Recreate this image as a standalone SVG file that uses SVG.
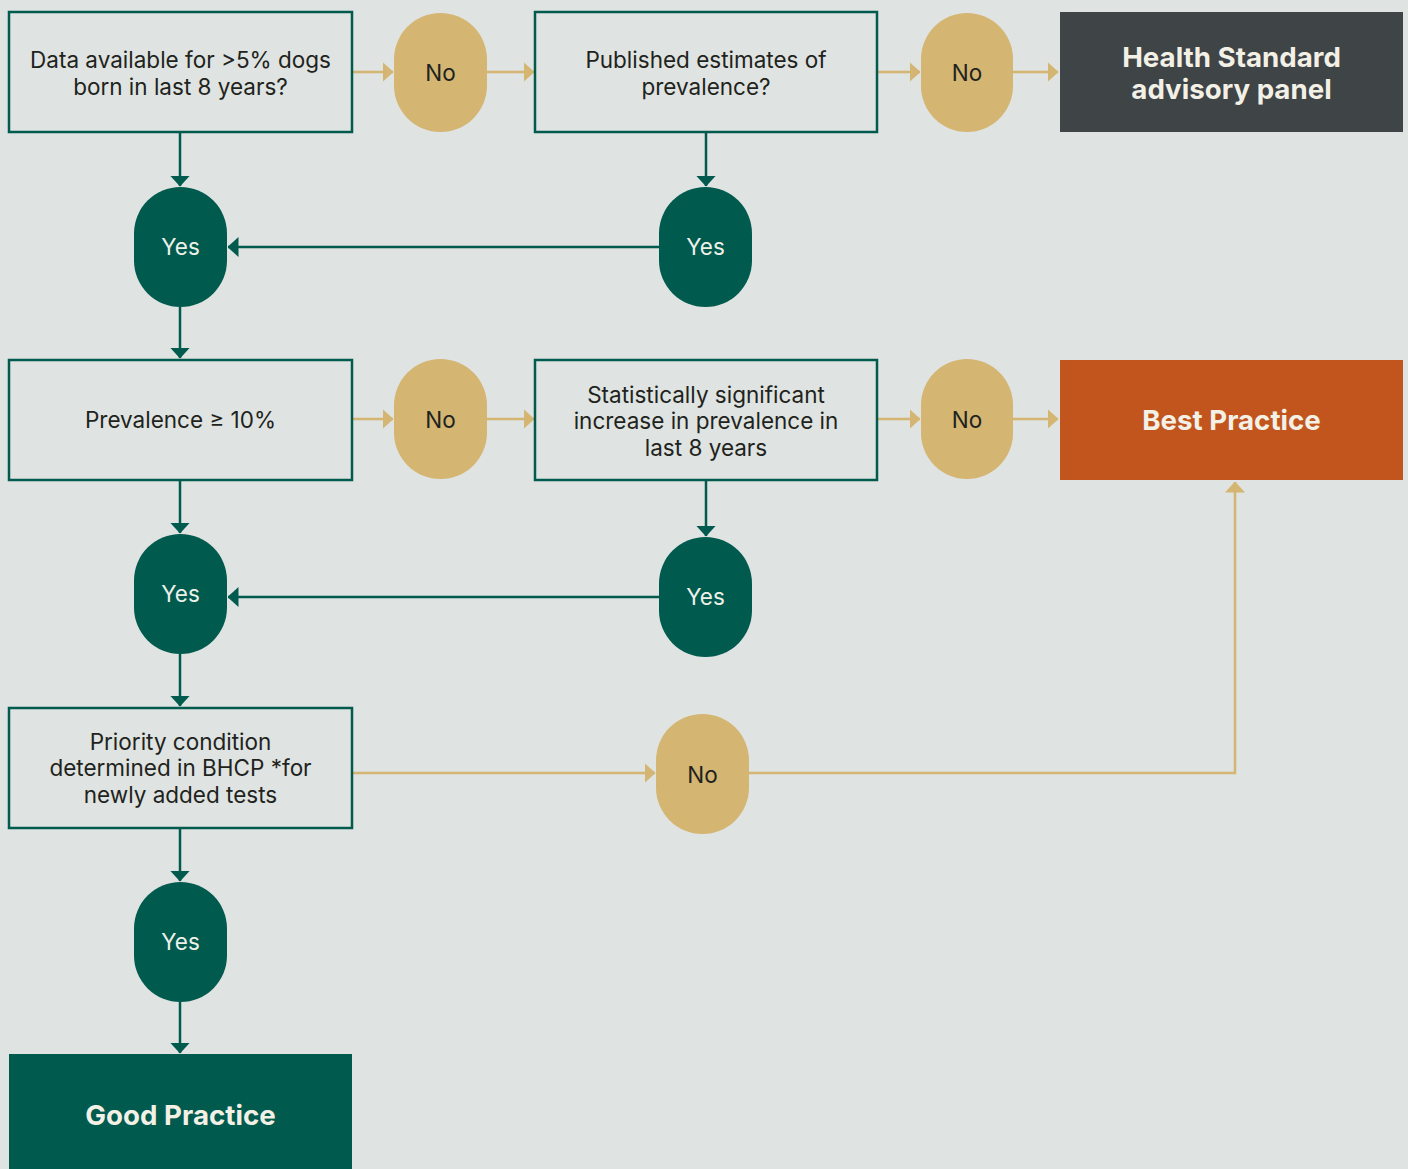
<svg xmlns="http://www.w3.org/2000/svg" width="1408" height="1169" viewBox="0 0 1408 1169">
<defs>
<marker id="ag" viewBox="0 0 11 20" refX="10.5" refY="10" markerWidth="4.4" markerHeight="8" orient="auto" markerUnits="strokeWidth"><path d="M0,0 L11,10 L0,20 Z" fill="#005a4e"/></marker>
<marker id="ay" viewBox="0 0 11 20" refX="10.5" refY="10" markerWidth="4.4" markerHeight="8" orient="auto" markerUnits="strokeWidth"><path d="M0,0 L11,10 L0,20 Z" fill="#d4b571"/></marker>
<style>
.box{fill:#dfe3e1;stroke:#005a4e;stroke-width:2.5}
.no{fill:#d4b571}
.yes{fill:#005a4e}
.t{font-family:Inter,"Noto Sans","Liberation Sans",sans-serif;font-size:22.5px;fill:#1e2320;text-anchor:middle}
.ty{font-family:Inter,"Noto Sans","Liberation Sans",sans-serif;font-size:22.5px;fill:#eef1ea;text-anchor:middle}
.tb{font-family:Inter,"Noto Sans","Liberation Sans",sans-serif;font-size:27.7px;font-weight:bold;fill:#f3f0e6;text-anchor:middle}
.cg{fill:none;stroke:#005a4e;stroke-width:2.5;marker-end:url(#ag)}
.cy{fill:none;stroke:#d4b571;stroke-width:2.5;marker-end:url(#ay)}
</style>
</defs>
<rect width="1408" height="1169" fill="#dfe3e1"/>
<g id="connectors">
<path class="cy" d="M352,72 H393"/>
<path class="cy" d="M487,72 H534"/>
<path class="cy" d="M877,72 H920"/>
<path class="cy" d="M1013,72 H1058"/>
<path class="cg" d="M180,132 V186"/>
<path class="cg" d="M706,132 V186"/>
<path class="cg" d="M659,247 H228"/>
<path class="cg" d="M180,307 V358"/>
<path class="cy" d="M352,419 H393"/>
<path class="cy" d="M487,419 H534"/>
<path class="cy" d="M877,419 H920"/>
<path class="cy" d="M1013,419 H1058"/>
<path class="cg" d="M180,480 V533"/>
<path class="cg" d="M706,480 V536"/>
<path class="cg" d="M659,597 H228"/>
<path class="cg" d="M180,654 V706"/>
<path class="cy" d="M352,773 H655"/>
<path class="cy" d="M749,773 H1235 V482"/>
<path class="cg" d="M180,828 V881"/>
<path class="cg" d="M180,1002 V1053"/>
</g>
<g id="q1"><rect class="box" x="9" y="12" width="343" height="120"/><text class="t" x="180.5" y="68">Data available for &gt;5% dogs</text><text class="t" x="180.5" y="95">born in last 8 years?</text></g>
<g id="no1"><rect class="no" x="394" y="13" width="93" height="119" rx="46.5"/><text class="t" x="440.5" y="81">No</text></g>
<g id="q2"><rect class="box" x="535" y="12" width="342" height="120"/><text class="t" x="706" y="68">Published estimates of</text><text class="t" x="706" y="95">prevalence?</text></g>
<g id="no2"><rect class="no" x="921" y="13" width="92" height="119" rx="46"/><text class="t" x="967" y="81">No</text></g>
<g id="hs"><rect x="1060" y="12" width="343" height="120" fill="#3f4447"/><text class="tb" x="1231.5" y="67">Health Standard</text><text class="tb" x="1231.5" y="99">advisory panel</text></g>
<g id="yes1"><rect class="yes" x="134" y="187" width="93" height="120" rx="46.5"/><text class="ty" x="180.5" y="255">Yes</text></g>
<g id="yes2"><rect class="yes" x="659" y="187" width="93" height="120" rx="46.5"/><text class="ty" x="705.5" y="255">Yes</text></g>
<g id="q3"><rect class="box" x="9" y="360" width="343" height="120"/><text class="t" x="180.5" y="428">Prevalence ≥ 10%</text></g>
<g id="no3"><rect class="no" x="394" y="359" width="93" height="120" rx="46.5"/><text class="t" x="440.5" y="428">No</text></g>
<g id="q4"><rect class="box" x="535" y="360" width="342" height="120"/><text class="t" x="706" y="403">Statistically significant</text><text class="t" x="706" y="429">increase in prevalence in</text><text class="t" x="706" y="456">last 8 years</text></g>
<g id="no4"><rect class="no" x="921" y="359" width="92" height="120" rx="46"/><text class="t" x="967" y="428">No</text></g>
<g id="bp"><rect x="1060" y="360" width="343" height="120" fill="#c2541e"/><text class="tb" x="1231.5" y="430">Best Practice</text></g>
<g id="yes3"><rect class="yes" x="134" y="534" width="93" height="120" rx="46.5"/><text class="ty" x="180.5" y="602">Yes</text></g>
<g id="yes4"><rect class="yes" x="659" y="537" width="93" height="120" rx="46.5"/><text class="ty" x="705.5" y="605">Yes</text></g>
<g id="q5"><rect class="box" x="9" y="708" width="343" height="120"/><text class="t" x="180.5" y="750">Priority condition</text><text class="t" x="180.5" y="776">determined in BHCP *for</text><text class="t" x="180.5" y="803">newly added tests</text></g>
<g id="no5"><rect class="no" x="656" y="714" width="93" height="120" rx="46.5"/><text class="t" x="702.5" y="783">No</text></g>
<g id="yes5"><rect class="yes" x="134" y="882" width="93" height="120" rx="46.5"/><text class="ty" x="180.5" y="950">Yes</text></g>
<g id="gp"><rect x="9" y="1054" width="343" height="120" fill="#005a4e"/><text class="tb" x="180.5" y="1125">Good Practice</text></g>
</svg>
